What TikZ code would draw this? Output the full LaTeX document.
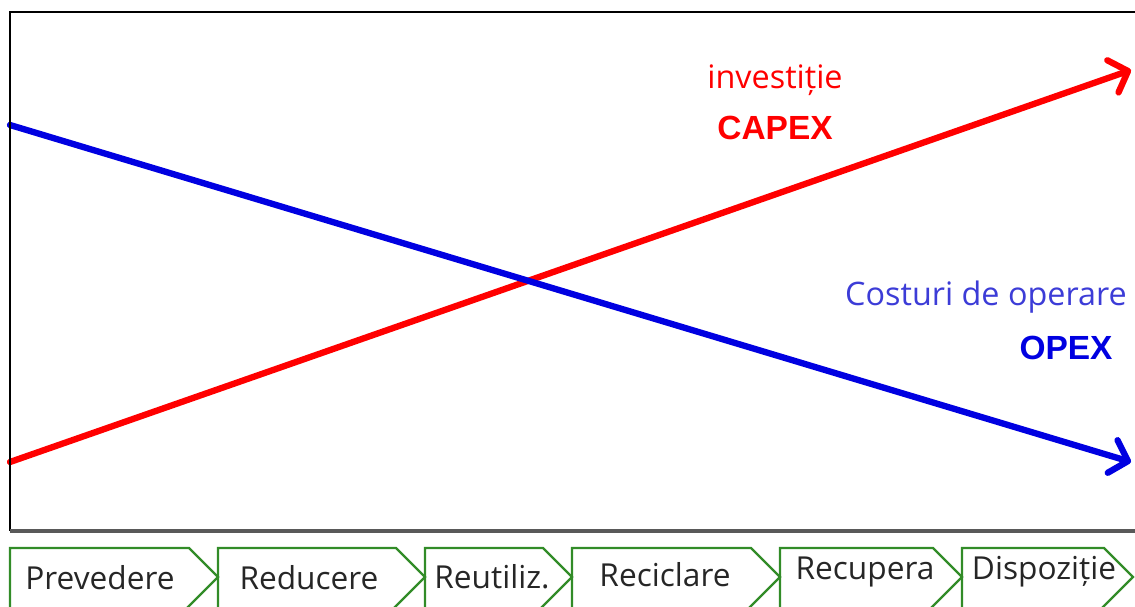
\documentclass[tikz,border=0pt]{standalone}
\usepackage{fontspec}
\setmainfont{Open Sans}
\newfontfamily\capsfont{Liberation Sans}
\usetikzlibrary{arrows.meta}

\definecolor{capexred}{RGB}{255,0,0}
\definecolor{opexblue}{RGB}{0,0,225}
\definecolor{notblue}{RGB}{60,60,215}
\definecolor{stepgreen}{RGB}{50,140,40}

\tikzset{
    costline/.style={line width=4.5pt, line cap=round, line join=round,
        -{Straight Barb[length=4mm,width=8.5mm,round]}},
    stepbox/.style={draw=stepgreen, line width=1.7pt},
    steplabel/.style={font=\fontsize{22.5}{26}\selectfont, text=black!85},
    curvenote/.style={font=\fontsize{23}{27}\selectfont},
    curvename/.style={font=\capsfont\bfseries\fontsize{23.8}{28}\selectfont},
}

\begin{document}
\begin{tikzpicture}[x=0.025cm, y=-0.025cm]
    \useasboundingbox (0,0) rectangle (1135,606);

    % Cost lines
    \coordinate (capex start) at (10,462);
    \coordinate (capex end) at (1131,70);
    \coordinate (opex start) at (10,125);
    \coordinate (opex end) at (1131,462);
    \draw[costline, capexred] (capex start) -- (capex end);
    \draw[costline, opexblue] (opex start) -- (opex end);

    % Frame
    \draw[line width=2pt] (1135,12) -- (10,12) -- (10,531);
    \draw[line width=2.5pt, black!65] (10,531) -- (1135,531);

    % Labels
    \node[curvenote, text=capexred] (capex note) at (775,80) {investiție};
    \node[curvename, text=capexred] (capex name) at (775,128) {CAPEX};
    \node[curvenote, text=notblue] (opex note) at (986,297) {Costuri de operare};
    \node[curvename, text=opexblue] (opex name) at (1066,348) {OPEX};

    % Stages
    \foreach \l/\r/\tx/\ty/\txt [count=\i] in {10/218/100/578/Prevedere,
        218/425/309/578/Reducere, 425/572/492/577/Reutiliz.,
        572/780/665/575/Reciclare, 780/962/865/572/Recupera,
        962/1133/1044/572/Dispoziție}
    {
        \draw[stepbox] (\l,612) -- (\l,548) -- (\r-29,548) -- (\r,577) -- (\r-35,612);
        \node[steplabel] (stage\i) at (\tx,\ty) {\txt};
    }

\end{tikzpicture}
\end{document}
